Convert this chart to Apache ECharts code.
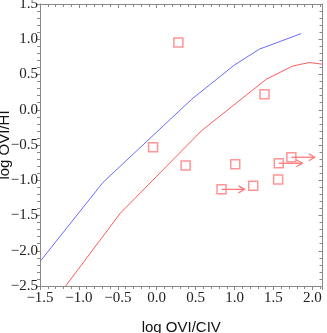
<!DOCTYPE html>
<html><head><meta charset="utf-8">
<script src="https://cdn.jsdelivr.net/npm/echarts@6/dist/echarts.min.js"></script>
<style>html,body{margin:0;padding:0;background:#fff}#c{width:327px;height:333px}</style>
</head><body><div id="c"></div>
<script>
var blueLine = [[-1.49,-2.14],[-0.69,-1.03],[0.45,0.15],[1.0,0.636],[1.32,0.86],[1.855,1.08]];
var redLine = [[-1.17,-2.5],[-0.47,-1.47],[0.573,-0.30],[1.406,0.432],[1.747,0.62],[1.96,0.67],[2.13,0.646]];
var squares = [[0.278,0.955],[1.385,0.219],[-0.047,-0.531],[0.372,-0.792],[1.009,-0.773],[0.833,-1.129],[1.24,-1.077],[1.56,-0.99],[1.568,-0.759],[1.73,-0.674]];
var arrows = [[0.833,-1.129,1.128],[1.568,-0.759,1.87],[1.73,-0.674,2.03]];
var xTitle = 'log OVI/CIV';
var yTitle = 'log OVI/HI';

var chart = echarts.init(document.getElementById('c'));
function fmt(v){ var s = v.toFixed(1); return s.replace('-', '\u2212'); }
var labelStyle = {fontFamily:'Liberation Serif', fontSize:15, color:'#222', formatter:fmt, showMaxLabel:false};
var lineStyleAxis = {color:'#888', width:1};
chart.setOption({
  animation:false,
  grid:{left:40, right:4.5, top:4, bottom:47, containLabel:false, outerBoundsMode:'none'},
  xAxis:[{
    type:'value', min:-1.5, max:2.13, interval:0.5, position:'bottom',
    name:xTitle, nameLocation:'middle', nameGap:34, nameMoveOverlap:false,
    nameTextStyle:{fontFamily:'Liberation Sans', fontSize:15, color:'#111'},
    axisLine:{show:true, onZero:false, lineStyle:lineStyleAxis},
    axisTick:{show:true, inside:false, length:4, lineStyle:lineStyleAxis},
    minorTick:{show:true, splitNumber:5, length:3, lineStyle:lineStyleAxis},
    axisLabel:Object.assign({margin:5}, labelStyle),
    splitLine:{show:false}
  },{
    type:'value', min:-1.5, max:2.13, interval:0.5, position:'top',
    axisLine:{show:true, onZero:false, lineStyle:lineStyleAxis},
    axisTick:{show:true, inside:true, length:4, lineStyle:lineStyleAxis},
    minorTick:{show:true, splitNumber:5, length:3, lineStyle:lineStyleAxis},
    axisLabel:{show:false}, splitLine:{show:false}
  }],
  yAxis:[{
    type:'value', min:-2.5, max:1.5, interval:0.5, position:'left',
    name:yTitle, nameLocation:'middle', nameGap:28, nameRotate:90, nameMoveOverlap:false,
    nameTextStyle:{fontFamily:'Liberation Sans', fontSize:15, color:'#111'},
    axisLine:{show:true, onZero:false, lineStyle:lineStyleAxis},
    axisTick:{show:true, inside:false, length:4, lineStyle:lineStyleAxis},
    minorTick:{show:true, splitNumber:5, length:3, lineStyle:lineStyleAxis},
    axisLabel:Object.assign({margin:2}, labelStyle, {showMaxLabel:true}),
    splitLine:{show:false}
  },{
    type:'value', min:-2.5, max:1.5, interval:0.5, position:'right',
    axisLine:{show:true, onZero:false, lineStyle:lineStyleAxis},
    axisTick:{show:true, inside:true, length:4, lineStyle:lineStyleAxis},
    minorTick:{show:true, splitNumber:5, length:3, lineStyle:lineStyleAxis},
    axisLabel:{show:false}, splitLine:{show:false}
  }],
  series:[
    {type:'line', data:blueLine, showSymbol:false, symbol:'none', lineStyle:{color:'#6a6aff', width:1}},
    {type:'line', data:redLine, showSymbol:false, symbol:'none', lineStyle:{color:'#ff5a5a', width:1}},
    {type:'custom', data:arrows, renderItem:function(params, api){
        var p0 = api.coord([api.value(0), api.value(1)]);
        var p1 = api.coord([api.value(2), api.value(1)]);
        var st = {stroke:'#ff7a7a', lineWidth:1.3, fill:null};
        return {type:'group', children:[
          {type:'polyline', shape:{points:[p0,p1]}, style:st},
          {type:'polyline', shape:{points:[[p1[0]-6,p1[1]-3.5],[p1[0],p1[1]],[p1[0]-6,p1[1]+3.5]]}, style:st}
        ]};
      }},
    {type:'scatter', data:squares, symbol:'rect', symbolSize:9,
      itemStyle:{color:'rgba(0,0,0,0)', borderColor:'#ff7a7a', borderWidth:1.5}}
  ]
});
</script></body></html>
